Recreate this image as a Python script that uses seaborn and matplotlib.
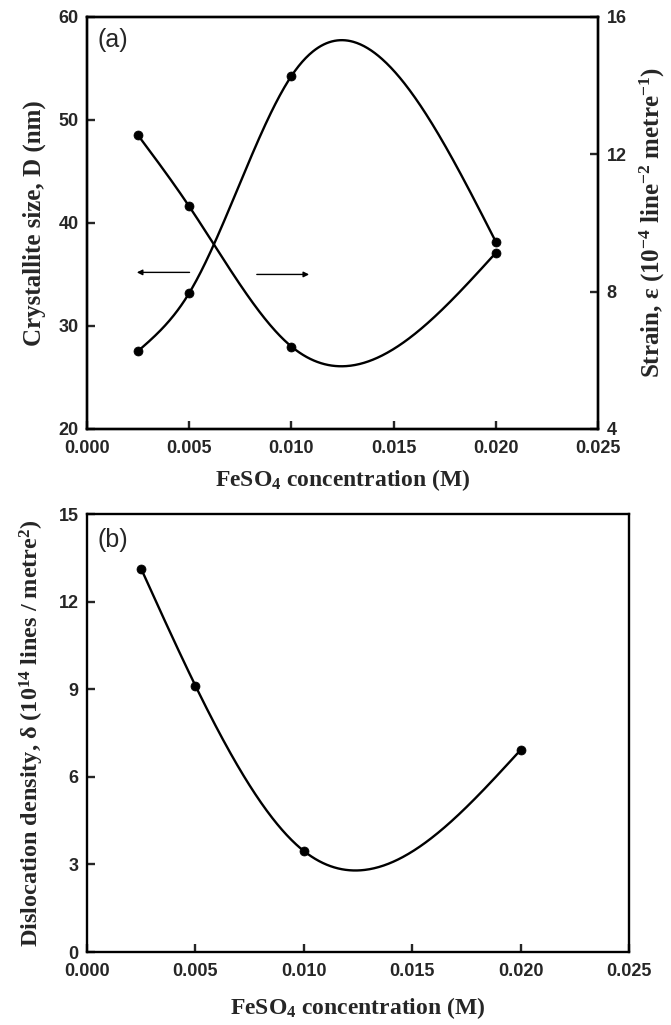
import numpy as np
import pandas as pd
import matplotlib
matplotlib.use("Agg")
import matplotlib.pyplot as plt
import seaborn as sns

# ---- data ----
conc = [0.0025, 0.005, 0.010, 0.020]
crystallite_size = [48.5, 41.6, 28.0, 37.1]      # nm, left axis (a)
strain = [6.27, 7.96, 14.28, 9.45]              # 1e-4, right axis (a)
dislocation = [13.12, 9.12, 3.46, 6.92]          # 1e14 lines/m^2 (b)

xticks = [0.000, 0.005, 0.010, 0.015, 0.020, 0.025]
xticklabels = ["0.000", "0.005", "0.010", "0.015", "0.020", "0.025"]
yticks_size = [20, 30, 40, 50, 60]
yticks_strain = [4, 8, 12, 16]
yticks_disl = [0, 3, 6, 9, 12, 15]

sns.set_style("ticks")
plt.rcParams["mathtext.fontset"] = "custom"
plt.rcParams["mathtext.rm"] = "Liberation Serif:bold"
plt.rcParams["mathtext.it"] = "Liberation Serif:bold"
plt.rcParams["mathtext.bf"] = "Liberation Serif:bold"
plt.rcParams["font.family"] = ["Liberation Sans", "DejaVu Sans"]

LW = 1.7
xlabel_font = dict(family="Liberation Serif", weight="bold", size=17)
ylabel_font = dict(family="Liberation Serif", weight="bold", size=18)
tick_font = dict(family="Liberation Sans", weight="bold", size=13)


def smooth(x, y, n=400):
    """Natural cubic spline through the data points (for the smooth connecting curve)."""
    x = np.asarray(x, float)
    y = np.asarray(y, float)
    m = len(x)
    h = np.diff(x)
    s = np.diff(y) / h
    A = np.zeros((m, m))
    b = np.zeros(m)
    A[0, 0] = 1
    A[-1, -1] = 1
    for i in range(1, m - 1):
        A[i, i - 1] = h[i - 1]
        A[i, i] = 2 * (h[i - 1] + h[i])
        A[i, i + 1] = h[i]
        b[i] = 6 * (s[i] - s[i - 1])
    M = np.linalg.solve(A, b)
    xs = np.linspace(x[0], x[-1], n)
    idx = np.clip(np.searchsorted(x, xs) - 1, 0, m - 2)
    x0, x1 = x[idx], x[idx + 1]
    hh = x1 - x0
    a = (x1 - xs) / hh
    bb = (xs - x0) / hh
    ys = (a * y[idx] + bb * y[idx + 1]
          + ((a ** 3 - a) * M[idx] + (bb ** 3 - bb) * M[idx + 1]) * hh ** 2 / 6)
    return pd.DataFrame({"x": xs, "y": ys})


def style_axis(ax):
    for sp in ax.spines.values():
        sp.set_linewidth(LW)
        sp.set_color("black")
        sp.set_visible(True)
    ax.tick_params(direction="in", length=6, width=LW, top=False)
    ax.tick_params(axis="x", pad=8)
    ax.tick_params(axis="y", pad=6)
    for lab in ax.get_xticklabels() + ax.get_yticklabels():
        lab.set_fontfamily(tick_font["family"])
        lab.set_fontweight(tick_font["weight"])
        lab.set_fontsize(tick_font["size"])


fig = plt.figure(figsize=(6.71, 10.25), dpi=100)
ax1 = fig.add_axes([0.1297, 0.5815, 0.7616, 0.402])
ax3 = fig.add_axes([0.1297, 0.0712, 0.8077, 0.4273])

# ---- panel (a) ----
d1 = smooth(conc, crystallite_size)
sns.lineplot(data=d1, x="x", y="y", ax=ax1, color="black", lw=LW)
sns.scatterplot(x=conc, y=crystallite_size, ax=ax1, color="black", s=42, edgecolor="black", zorder=5)
ax1.set_xlim(0, 0.025)
ax1.set_ylim(20, 60)
ax1.set_xticks(xticks)
ax1.set_xticklabels(xticklabels)
ax1.set_yticks(yticks_size)
ax1.set_xlabel("FeSO$_4$ concentration (M)", **xlabel_font, labelpad=7)
ax1.set_ylabel("Crystallite size, D (nm)", **ylabel_font, labelpad=9)

ax2 = ax1.twinx()
d2 = smooth(conc, strain)
sns.lineplot(data=d2, x="x", y="y", ax=ax2, color="black", lw=LW)
sns.scatterplot(x=conc, y=strain, ax=ax2, color="black", s=42, edgecolor="black", zorder=5)
ax2.set_ylim(4, 16)
ax2.set_yticks(yticks_strain)
ax2.set_ylabel("Strain, ε (10$^{-4}$ line$^{-2}$ metre$^{-1}$)", **ylabel_font, labelpad=8)
style_axis(ax1)
style_axis(ax2)
ax2.tick_params(left=False, right=True, bottom=False)

ax1.annotate("", xy=(0.0023, 35.2), xytext=(0.00515, 35.2),
             arrowprops=dict(arrowstyle="-|>", color="black", lw=1.0, mutation_scale=8))
ax1.annotate("", xy=(0.0110, 35.0), xytext=(0.00817, 35.0),
             arrowprops=dict(arrowstyle="-|>", color="black", lw=1.0, mutation_scale=8))
ax1.text(0.02, 0.945, "(a)", transform=ax1.transAxes, fontsize=18,
         family="Liberation Sans", va="center", ha="left")

# ---- panel (b) ----
d3 = smooth(conc, dislocation)
sns.lineplot(data=d3, x="x", y="y", ax=ax3, color="black", lw=LW)
sns.scatterplot(x=conc, y=dislocation, ax=ax3, color="black", s=42, edgecolor="black", zorder=5)
ax3.set_xlim(0, 0.025)
ax3.set_ylim(0, 15)
ax3.set_xticks(xticks)
ax3.set_xticklabels(xticklabels)
ax3.set_yticks(yticks_disl)
ax3.set_xlabel("FeSO$_4$ concentration (M)", **xlabel_font, labelpad=11)
ax3.set_ylabel("Dislocation density, δ (10$^{14}$ lines / metre$^{2}$)", size=17.5,
               family="Liberation Serif", weight="bold", labelpad=9)
style_axis(ax3)
ax3.text(0.02, 0.94, "(b)", transform=ax3.transAxes, fontsize=18,
         family="Liberation Sans", va="center", ha="left")

fig.savefig("out.png", dpi=100)
